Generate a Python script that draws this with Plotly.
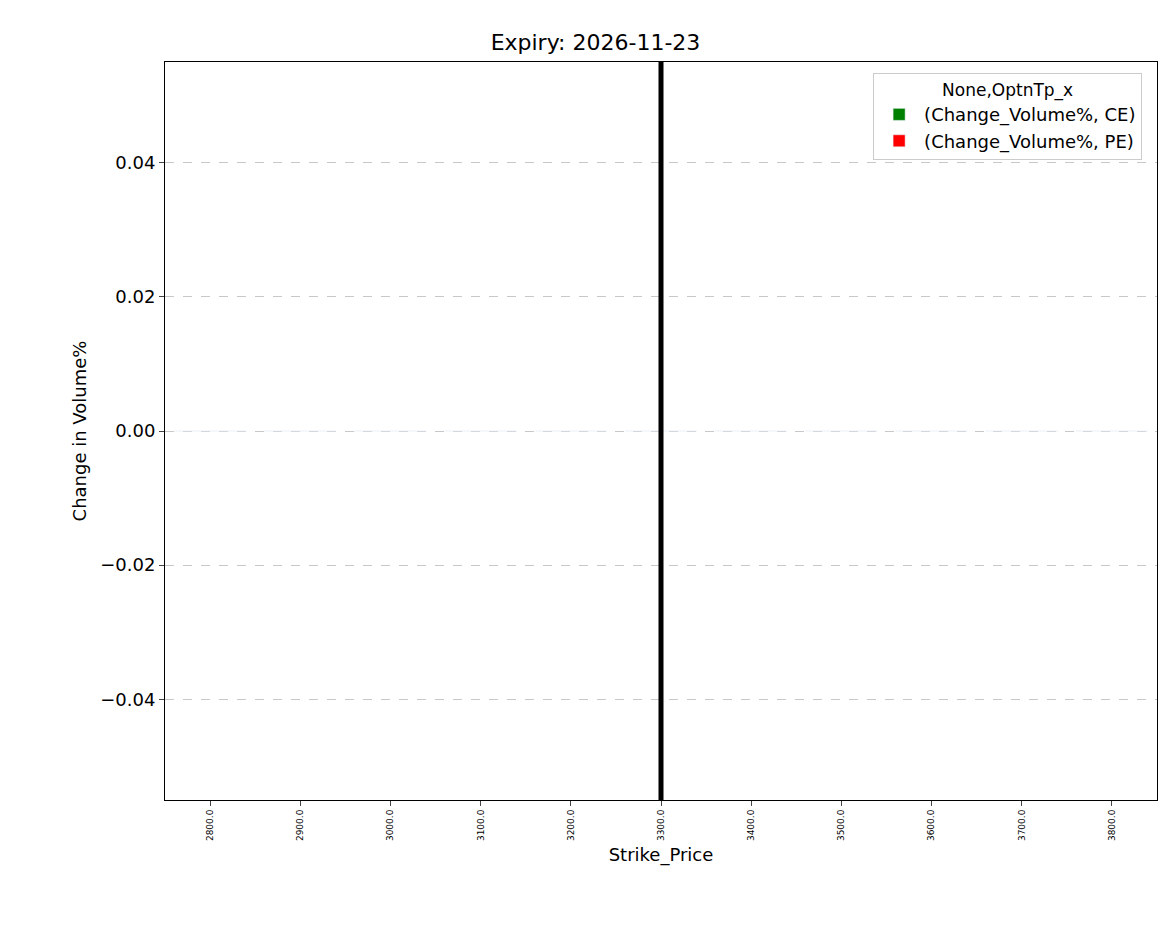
import plotly.graph_objects as go

strikes = [2800.0, 2900.0, 3000.0, 3100.0, 3200.0, 3300.0, 3400.0, 3500.0, 3600.0, 3700.0, 3800.0]
ce_vals = [0.0]*11
pe_vals = [0.0]*11
atm_strike = 3300.0
labels = [f"{s:.1f}" for s in strikes]
idx = list(range(len(strikes)))

fig = go.Figure()
fig.add_bar(x=idx, y=ce_vals, name="(Change_Volume%, CE)", marker_color="green", offsetgroup=0)
fig.add_bar(x=idx, y=pe_vals, name="(Change_Volume%, PE)", marker_color="red", offsetgroup=1)
fig.add_vline(x=strikes.index(atm_strike), line_color="black", line_width=5)

fig.update_layout(
    width=1175, height=939, plot_bgcolor="white", paper_bgcolor="white",
    font=dict(family="DejaVu Sans", color="black", size=18),
    margin=dict(l=157, r=26, t=54, b=147),
    title=dict(text="Expiry: 2026-11-23", x=0.5, xanchor="center", y=0.972, font=dict(size=22)),
    barmode="group",
    legend=dict(title=dict(text="None,OptnTp_x", side="top center", font=dict(size=17)),
                x=0.985, y=0.985, xanchor="right", yanchor="top",
                bordercolor="#cccccc", borderwidth=1, font=dict(size=18), itemwidth=40),
)
fig.update_xaxes(range=[-0.5, 10.5], tickvals=idx, ticktext=labels, tickangle=-90, tickfont=dict(size=9),
                 showline=True, linecolor="black", mirror=True, ticks="outside", showgrid=False,
                 title=dict(text="Strike_Price", font=dict(size=18), standoff=8), zeroline=False)
fig.update_yaxes(range=[-0.055, 0.055], tickvals=[-0.04, -0.02, 0, 0.02, 0.04],
                 ticktext=["\u22120.04", "\u22120.02", "0.00", "0.02", "0.04"], tickfont=dict(size=18),
                 showline=True, linecolor="black", mirror=True, ticks="outside",
                 showgrid=True, gridcolor="#c8c8c8", griddash="dash", zeroline=False,
                 title=dict(text="Change in Volume%", font=dict(size=18), standoff=8))
fig.write_html("out.html")
